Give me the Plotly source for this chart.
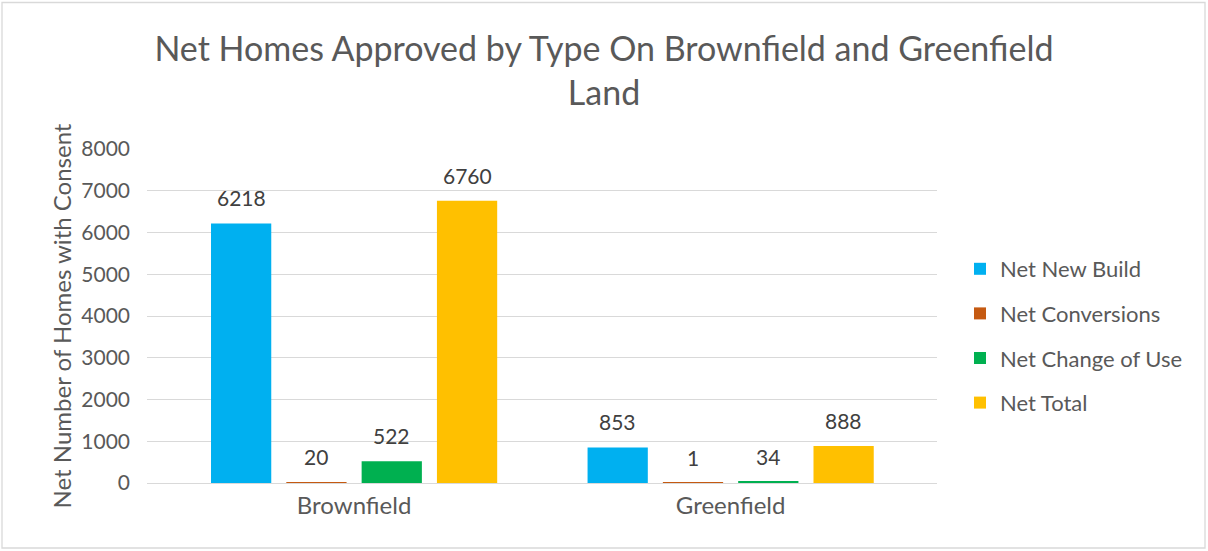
import plotly.graph_objects as go

categories = ["Brownfield", "Greenfield"]
series_names = ["Net New Build", "Net Conversions", "Net Change of Use", "Net Total"]
net_new_build = [6218, 853]
net_conversions = [20, 1]
net_change_of_use = [522, 34]
net_total = [6760, 888]
colors = ["#00B0F0", "#C55A11", "#00B050", "#FFC000"]
y_ticks = [0, 1000, 2000, 3000, 4000, 5000, 6000, 7000, 8000]

W, H = 1208, 551
L, R, T, B = 147, 271, 149, 68
pw, ph = W - L - R, H - T - B

FONT = "Lato, 'Open Sans', sans-serif"
all_series = [net_new_build, net_conversions, net_change_of_use, net_total]

fig = go.Figure()
annotations = []
n = len(all_series)
for i, (name, vals, col) in enumerate(zip(series_names, all_series, colors)):
    fig.add_trace(go.Bar(
        x=categories, y=vals, name=name, marker_color=col, marker_line_width=0,
        legendgroup=name,
    ))
    for j, v in enumerate(vals):
        annotations.append(dict(
            x=j + (i - (n - 1) / 2) * 0.2, y=v, xref="x", yref="y",
            text=str(v), showarrow=False, yanchor="bottom", yshift=11,
            font=dict(size=21, color="#404040", family=FONT),
        ))

def px_x(p):
    return (p - L) / pw

def px_y(p):
    return (H - B - p) / ph

fig.update_layout(
    width=W, height=H,
    margin=dict(l=L, r=R, t=T, b=B, autoexpand=False),
    paper_bgcolor="white", plot_bgcolor="white",
    barmode="group", bargap=0.2, bargroupgap=0.2,
    font=dict(family=FONT, color="#595959"),
    title=dict(text="Net Homes Approved by Type On Brownfield and Greenfield<br>Land",
               x=0.5, xanchor="center", yref="container", y=1 - 61 / H, yanchor="top",
               font=dict(size=34, color="#595959", family=FONT)),
    xaxis=dict(range=[-0.55, 1.548], showgrid=False, showline=False, zeroline=False,
               ticks="", tickfont=dict(size=24, color="#595959"), fixedrange=True,
               ticklabelstandoff=6),
    yaxis=dict(range=[0, 8000], tickvals=y_ticks, showgrid=True, gridcolor="#D9D9D9",
               gridwidth=1.3, zeroline=True, zerolinecolor="#D9D9D9", zerolinewidth=1.3,
               showline=False, ticks="", tickfont=dict(size=21, color="#595959"),
               ticklabelstandoff=16, fixedrange=True,
               title=dict(text="Net Number of Homes with Consent", standoff=2,
                          font=dict(size=24, color="#595959"))),
    legend=dict(x=px_x(960), y=px_y(248), xanchor="left", yanchor="top",
                font=dict(size=22, color="#595959"), tracegroupgap=13,
                bgcolor="rgba(0,0,0,0)"),
    showlegend=True,
    annotations=annotations,
    shapes=[dict(type="rect", xref="paper", yref="paper",
                 x0=px_x(2), x1=px_x(1205), y0=px_y(548), y1=px_y(2.5),
                 line=dict(color="#D9D9D9", width=1.3), fillcolor="rgba(0,0,0,0)",
                 layer="below")],
)

fig.write_html("out.html", config={"displayModeBar": False},
               post_script="document.body.style.margin='0';")
